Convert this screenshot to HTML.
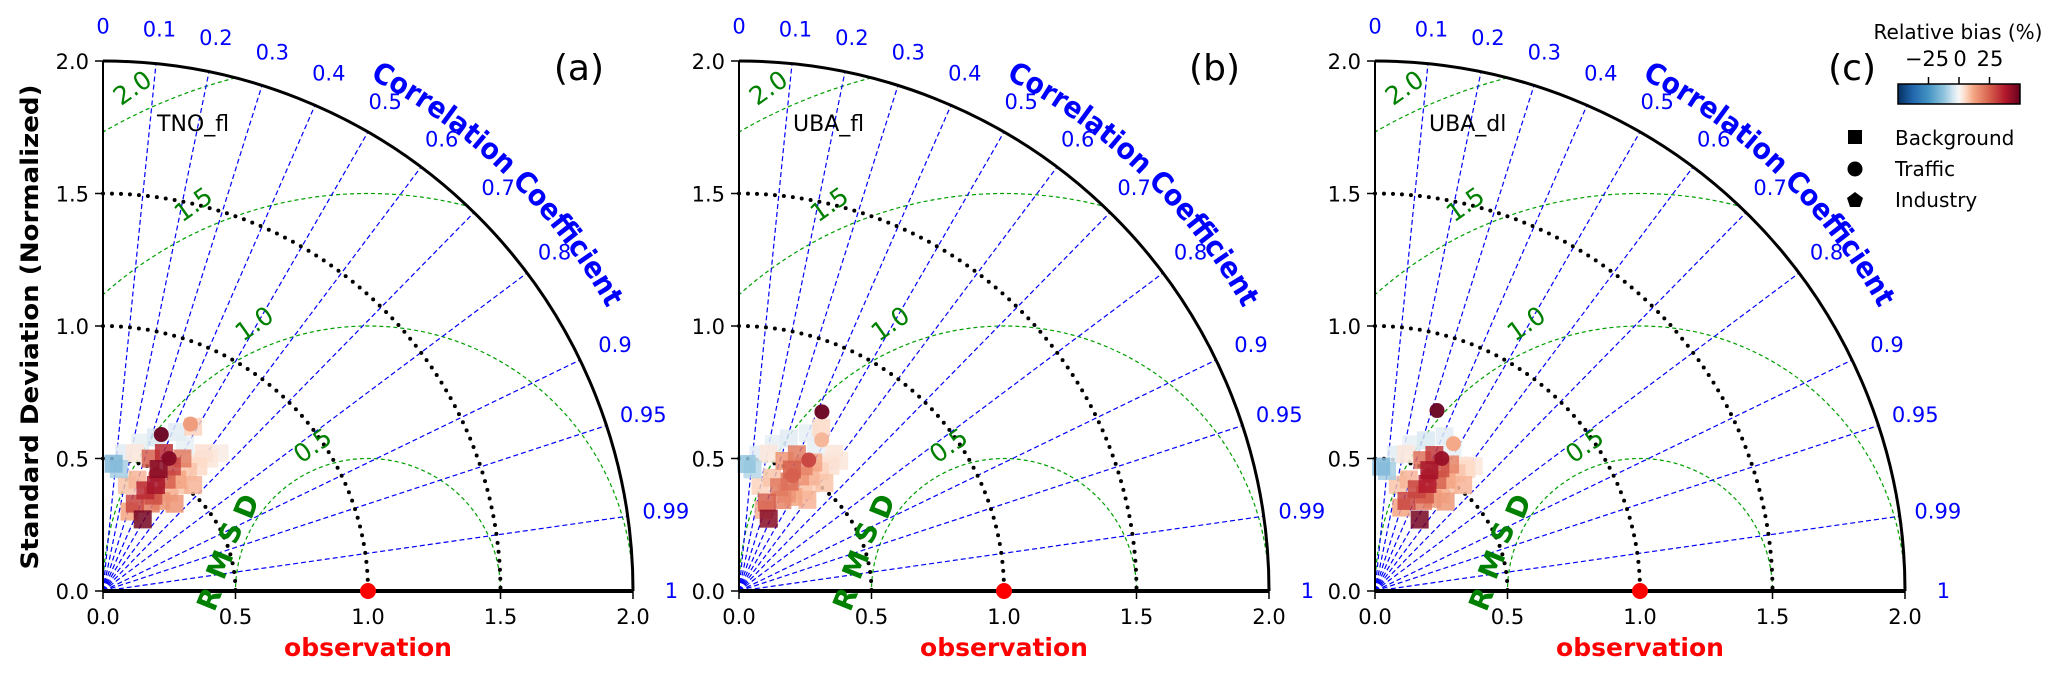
<!DOCTYPE html>
<html><head><meta charset="utf-8"><style>
html,body{margin:0;padding:0;background:#fff;overflow:hidden;width:2067px;height:676px;}
svg{display:block;font-family:"DejaVu Sans","Liberation Sans",sans-serif;}
</style></head><body>
<svg id="fig" width="2067" height="676" viewBox="0 0 2067 676" xmlns="http://www.w3.org/2000/svg">
<defs>
<linearGradient id="rdbu" x1="0" x2="1" y1="0" y2="0">
<stop offset="0" stop-color="#053061"/><stop offset="0.12" stop-color="#2166ac"/><stop offset="0.25" stop-color="#4393c3"/><stop offset="0.38" stop-color="#92c5de"/><stop offset="0.45" stop-color="#d1e5f0"/><stop offset="0.5" stop-color="#f7f7f7"/><stop offset="0.55" stop-color="#fddbc7"/><stop offset="0.62" stop-color="#f4a582"/><stop offset="0.75" stop-color="#d6604d"/><stop offset="0.88" stop-color="#b2182b"/><stop offset="1" stop-color="#67001f"/>
</linearGradient>
</defs>
<text transform="translate(38,327) rotate(-90)" text-anchor="middle" font-weight="bold" font-size="24" textLength="485" lengthAdjust="spacingAndGlyphs">Standard Deviation (Normalized)</text>
<g>
<text x="1958" y="39" text-anchor="middle" font-size="20">Relative bias (%)</text>
<rect x="1898" y="84" width="122" height="20" fill="url(#rdbu)" stroke="#000" stroke-width="1.5"/>
<line x1="1928.5" y1="77" x2="1928.5" y2="84" stroke="#000" stroke-width="1.5"/>
<line x1="1959" y1="77" x2="1959" y2="84" stroke="#000" stroke-width="1.5"/>
<line x1="1989.5" y1="77" x2="1989.5" y2="84" stroke="#000" stroke-width="1.5"/>
<text x="1927" y="66" text-anchor="middle" font-size="21">−25</text>
<text x="1960" y="66" text-anchor="middle" font-size="21">0</text>
<text x="1990" y="66" text-anchor="middle" font-size="21">25</text>
</g>
<g>
<rect x="1848" y="130" width="14" height="14" fill="#000"/>
<text x="1895" y="145" font-size="20">Background</text>
<circle cx="1855" cy="169" r="7.5" fill="#000"/>
<text x="1895" y="176" font-size="20">Traffic</text>
<polygon points="1855,192 1863,198 1860,207 1850,207 1847,198" fill="#000"/>
<text x="1895" y="207" font-size="20">Industry</text>
</g>
</svg>
<script>
// ---- data (std normalized, correlation, relative bias %, station type) ----
const panelLetters = ["(a)", "(b)", "(c)"];
const panelNames = ["TNO_fl", "UBA_fl", "UBA_dl"];
const corrTicks = [0, 0.1, 0.2, 0.3, 0.4, 0.5, 0.6, 0.7, 0.8, 0.9, 0.95, 0.99, 1];
const corrLines = [0.1, 0.2, 0.3, 0.4, 0.5, 0.6, 0.7, 0.8, 0.9, 0.95, 0.99];
const axisTicks = [0, 0.5, 1.0, 1.5, 2.0];
const axisTickLabels = ["0.0", "0.5", "1.0", "1.5", "2.0"];
const stdArcs = [0.5, 1.0, 1.5];
const rmsArcs = [0.5, 1.0, 1.5, 2.0];
const rmsLabels = ["0.5", "1.0", "1.5", "2.0"];

const sdA = [.309,.351,.376,.405,.447,.412,.447,.484,.505,.552,.592,.640,.681,.583,.537,.506,.531,.440,.410,.482,.464,.526,.577,.613,.662,.707,.644,.525,.316,.569,.407,.426,.534,.631,.494,.630,.559,.711,.483,.616];
const ccA = [.485,.342,.479,.543,.559,.388,.447,.496,.555,.580,.608,.625,.646,.514,.484,.415,.339,.296,.220,.083,.129,.152,.243,.326,.423,.481,.590,.648,.316,.404,.467,.634,.225,.491,.587,.349,.447,.464,.414,.584];
const biasA = [48,30,20,15,10,35,40,25,12,8,5,3,2,20,30,45,25,10,8,-15,-10,-3,-2,-4,-3,6,4,10,12,35,28,15,3,-2,8,50,45,14,30,3];
const typeA = ["s","s","s","s","s","s","s","s","s","s","s","s","s","s","s","s","s","s","s","s","s","s","s","s","s","s","s","s","s","s","s","s","s","s","s","c","c","c","c","p"];

const sdB = [.295,.350,.380,.410,.450,.420,.455,.490,.510,.545,.585,.620,.560,.530,.500,.520,.445,.405,.480,.462,.520,.570,.605,.650,.690,.630,.520,.320,.560,.410,.430,.530,.620,.490,.745,.560,.650,.480,.600];
const ccB = [.380,.300,.430,.500,.540,.360,.420,.470,.530,.560,.590,.610,.500,.460,.400,.330,.280,.200,.060,.110,.140,.230,.310,.400,.450,.570,.620,.290,.390,.440,.600,.210,.470,.560,.420,.470,.480,.420,.560];
const biasB = [45,25,18,12,8,20,22,15,10,6,4,3,12,18,25,15,8,6,-12,-8,-3,-2,-3,-2,5,3,8,10,20,15,10,3,-2,6,50,30,10,25,3];
const typeB = ["s","s","s","s","s","s","s","s","s","s","s","s","s","s","s","s","s","s","s","s","s","s","s","s","s","s","s","s","s","s","s","s","s","s","c","c","c","c","p"];

const sdC = [.318,.360,.385,.410,.440,.415,.450,.480,.500,.540,.575,.600,.555,.525,.500,.525,.440,.410,.470,.455,.520,.570,.600,.640,.580,.520,.330,.560,.410,.430,.530,.610,.490,.720,.560,.630,.480,.590];
const ccC = [.530,.330,.470,.530,.560,.380,.440,.490,.540,.570,.600,.620,.510,.470,.410,.340,.290,.210,.050,.100,.150,.240,.320,.410,.580,.640,.300,.400,.460,.620,.220,.480,.570,.325,.450,.470,.420,.580];
const biasC = [48,30,20,14,10,30,38,24,12,8,5,3,18,28,40,22,10,8,-15,-10,-3,-2,-4,-3,4,10,12,32,26,14,3,-2,8,50,42,12,30,3];
const typeC = ["s","s","s","s","s","s","s","s","s","s","s","s","s","s","s","s","s","s","s","s","s","s","s","s","s","s","s","s","s","s","s","s","s","c","c","c","c","p"];

const panelSD = [sdA, sdB, sdC];
const panelCC = [ccA, ccB, ccC];
const panelBias = [biasA, biasB, biasC];
const panelType = [typeA, typeB, typeC];

// ---- drawing ----
const NS = "http://www.w3.org/2000/svg";
const svg = document.getElementById("fig");
const U = 265, OY = 591;
const panelX = [103, 739, 1375];
const cmapStops = [[-50,[5,48,97]],[-38,[33,102,172]],[-25,[67,147,195]],[-12,[146,197,222]],[-5,[209,229,240]],[0,[247,247,247]],[5,[253,219,199]],[12,[244,165,130]],[25,[214,96,77]],[38,[178,24,43]],[50,[103,0,31]]];
function cmap(v){
  v = Math.max(-50, Math.min(50, v));
  for (let i = 0; i < cmapStops.length - 1; i++) {
    const a = cmapStops[i], b = cmapStops[i+1];
    if (v <= b[0]) {
      const t = (v - a[0]) / (b[0] - a[0]);
      const c = a[1].map((x, k) => Math.round(x + (b[1][k] - x) * t));
      return "rgb(" + c.join(",") + ")";
    }
  }
  return "rgb(103,0,31)";
}
function mk(tag, attrs, parent){
  const e = document.createElementNS(NS, tag);
  for (const k in attrs) e.setAttribute(k, attrs[k]);
  (parent || svg).appendChild(e);
  return e;
}
function px(ox, x){ return ox + x * U; }
function py(y){ return OY - y * U; }
function polar(ox, r, c){ const t = Math.acos(c); return [px(ox, r * Math.cos(t)), py(r * Math.sin(t))]; }

function drawPanel(p){
  const ox = panelX[p];
  const g = mk("g", {});
  
  
  const clip = mk("clipPath", {id: "clip" + p}, g);
  mk("path", {d: `M${ox},${OY} L${px(ox,2)},${OY} A${2*U},${2*U} 0 0 0 ${ox},${py(2)} Z`}, clip);

  rmsArcs.forEach((r, i) => {
    const c = mk("circle", {cx: px(ox,1), cy: OY, r: r*U, fill: "none", stroke: "#00a000", "stroke-width": 1.2, "stroke-dasharray": "4 3", "clip-path": `url(#clip${p})`}, g);
    
    
  });
  corrLines.forEach(cv => {
    const [x2, y2] = polar(ox, 2, cv);
    const l = mk("line", {x1: ox, y1: OY, x2: x2, y2: y2, stroke: "#0000ff", "stroke-width": 1.2, "stroke-dasharray": "5 3"}, g);
    
    
  });
  stdArcs.forEach(r => {
    const a = mk("path", {d: `M${ox},${py(r)} A${r*U},${r*U} 0 0 1 ${px(ox,r)},${OY}`, fill: "none", stroke: "#000", "stroke-width": 4, "stroke-dasharray": "0 9", "stroke-linecap": "round"}, g);
    
    
  });
  const sd = panelSD[p], cc = panelCC[p], bs = panelBias[p], tp = panelType[p];
  const order = sd.map((_, i) => i).sort((a, b) => Math.abs(bs[a]) - Math.abs(bs[b]));
  order.forEach(i => {
    const [x, y] = polar(ox, sd[i], cc[i]);
    const col = cmap(bs[i]);
    let m;
    if (tp[i] === "s") m = mk("rect", {x: x-9, y: y-9, width: 18, height: 18, fill: col, opacity: 0.85}, g);
    else if (tp[i] === "c") m = mk("circle", {cx: x, cy: y, r: 7.5, fill: col, opacity: 0.95}, g);
    else m = mk("polygon", {points: `${x},${y-8} ${x+8},${y-2} ${x+5},${y+7} ${x-5},${y+7} ${x-8},${y-2}`, fill: col, opacity: 0.9}, g);
    
    
  });
  const outer = mk("path", {d: `M${ox},${py(2)} A${2*U},${2*U} 0 0 1 ${px(ox,2)},${OY}`, fill: "none", stroke: "#000", "stroke-width": 3}, g);
  
  
  const xa = mk("line", {x1: ox, y1: OY, x2: px(ox,2), y2: OY, stroke: "#000", "stroke-width": 4}, g);
  
  
  const ya = mk("line", {x1: ox, y1: OY+1, x2: ox, y2: py(2), stroke: "#000", "stroke-width": 2}, g);
  
  
  axisTicks.forEach((v, i) => {
    mk("line", {x1: px(ox,v), y1: OY, x2: px(ox,v), y2: OY+8, stroke: "#000", "stroke-width": 1.5}, g);
    const tx = mk("text", {x: px(ox,v), y: OY+33, "text-anchor": "middle", "font-size": 21}, g);
    tx.textContent = axisTickLabels[i];
    
    
    mk("line", {x1: ox-8, y1: py(v), x2: ox, y2: py(v), stroke: "#000", "stroke-width": 1.5}, g);
    const ty = mk("text", {x: ox-14, y: py(v)+8, "text-anchor": "end", "font-size": 21}, g);
    ty.textContent = axisTickLabels[i];
    
    
  });
  corrTicks.forEach(cv => {
    const [x, y] = polar(ox, 2.13, cv);
    const t = mk("text", {x: x + (cv > 0.85 ? 4 : 0), y: y+7, "text-anchor": "middle", "font-size": 21, fill: "#0000ff"}, g);
    t.textContent = String(cv);
    
    
  });
  const R = 578, a1 = 62.5*Math.PI/180, a2 = 28.5*Math.PI/180;
  mk("path", {id: "cpath"+p, d: `M${ox+R*Math.cos(a1)},${OY-R*Math.sin(a1)} A${R},${R} 0 0 1 ${ox+R*Math.cos(a2)},${OY-R*Math.sin(a2)}`, fill: "none"}, g);
  const ct = mk("text", {"font-size": 29, "font-weight": "bold", fill: "#0000ff"}, g);
  
  
  const tpth = mk("textPath", {href: "#cpath"+p, textLength: 335, lengthAdjust: "spacingAndGlyphs"}, ct);
  tpth.textContent = "Correlation Coefficient";
  const rl = [[0.79,0.55],[0.57,1.01],[0.34,1.46],[0.11,1.90]];
  rmsLabels.forEach((s, i) => {
    const t = mk("text", {transform: `translate(${px(ox,rl[i][0])},${py(rl[i][1])}) rotate(-35)`, "text-anchor": "middle", "font-size": 25, fill: "#008000", dy: 9}, g);
    t.textContent = s;
    
    
  });
  const rm = [["R",0.40,-0.03],["M",0.44,0.10],["S",0.48,0.22],["D",0.54,0.32]];
  rm.forEach(l => {
    const t = mk("text", {transform: `translate(${px(ox,l[1])},${py(l[2])}) rotate(-68)`, "text-anchor": "middle", "font-size": 28, "font-weight": "bold", fill: "#008000", dy: 10}, g);
    t.textContent = l[0];
    
    
  });
  const ob = mk("circle", {cx: px(ox,1), cy: OY, r: 8, fill: "#ff0000"}, g);
  
  
  const ol = mk("text", {x: px(ox,1), y: 656, "text-anchor": "middle", "font-size": 25, "font-weight": "bold", fill: "#ff0000"}, g);
  ol.textContent = "observation";
  
  
  const pl = mk("text", {x: ox+501, y: 80, "text-anchor": "end", "font-size": 36}, g);
  pl.textContent = panelLetters[p];
  
  
  const pn = mk("text", {x: ox+54, y: 131, "font-size": 22}, g);
  pn.textContent = panelNames[p];
  
  
}
[0,1,2].forEach(drawPanel);
</script>
</body></html>
